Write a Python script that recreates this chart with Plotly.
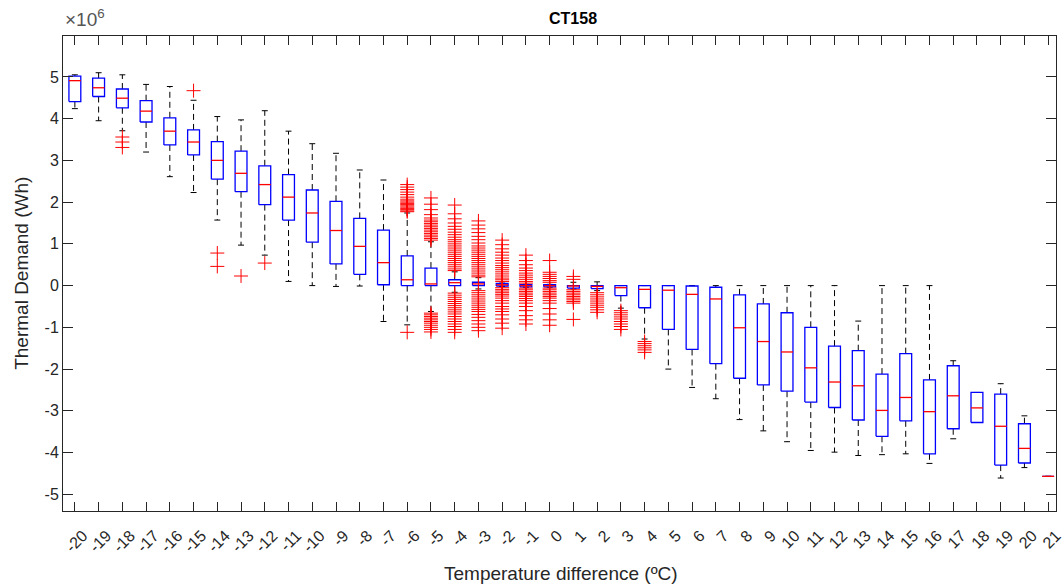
import plotly.graph_objects as go

# ---------------- data (values in units of 1e6 Wh) ----------------
categories = list(range(-20, 22))
tick_labels = [str(c) for c in categories]

lower_whisker = [4.24, 3.95, 3.71, 3.20, 2.61, 2.23, 1.57, 0.97, 0.73, 0.10, 0.00, -0.02,
                 -0.01, -0.86, -0.94, -0.62, -0.16, -0.08, -0.02, -0.04, -0.04, -0.08, -0.12,
                 -0.54, -1.28, -2.00, -2.44, -2.71, -3.21, -3.48, -3.74, -3.95, -3.99, -4.07,
                 -4.05, -4.03, -4.26, -3.67, -3.28, -4.61, -4.36, -4.57]
q1 = [4.41, 4.53, 4.26, 3.92, 3.37, 3.13, 2.55, 2.25, 1.94, 1.57, 1.04, 0.52,
      0.27, 0.02, 0.00, 0.00, 0.00, 0.00, -0.01, -0.03, -0.03, -0.06, -0.07,
      -0.24, -0.53, -1.05, -1.53, -1.87, -2.22, -2.38, -2.53, -2.79, -2.92, -3.22,
      -3.61, -3.24, -4.03, -3.43, -3.28, -4.30, -4.25, -4.57]
median = [4.91, 4.74, 4.49, 4.18, 3.70, 3.44, 3.00, 2.69, 2.42, 2.12, 1.74, 1.32,
          0.94, 0.55, 0.14, 0.04, 0.07, 0.04, 0.02, 0.00, 0.00, -0.01, -0.02,
          -0.05, -0.09, -0.11, -0.21, -0.32, -1.01, -1.34, -1.59, -1.97, -2.31, -2.40,
          -2.99, -2.68, -3.02, -2.64, -2.93, -3.37, -3.90, -4.57]
q3 = [5.02, 4.97, 4.71, 4.43, 4.02, 3.73, 3.45, 3.22, 2.87, 2.66, 2.29, 2.02,
      1.61, 1.33, 0.71, 0.42, 0.14, 0.08, 0.05, 0.02, 0.02, 0.00, 0.00,
      0.00, 0.00, 0.00, -0.01, -0.04, -0.22, -0.44, -0.65, -1.00, -1.45, -1.56,
      -2.12, -1.63, -2.26, -1.92, -2.56, -2.60, -3.31, -4.57]
upper_whisker = [5.05, 5.10, 5.05, 4.82, 4.77, 4.44, 4.05, 3.97, 4.19, 3.70, 3.40, 3.17,
                 2.77, 2.53, 1.74, 1.05, 0.33, 0.19, 0.06, 0.03, 0.03, 0.08, 0.09,
                 0.00, 0.00, 0.00, 0.00, 0.00, 0.00, 0.00, 0.00, 0.00, 0.00, -0.85,
                 0.00, 0.00, 0.00, -1.80, -2.56, -2.35, -3.12, -4.57]

# outliers per category
out_m18 = [3.56, 3.44, 3.31]
out_m15 = [4.67]
out_m14 = [0.78, 0.46]
out_m13 = [0.23]
out_m12 = [0.54]
out_m6 = [2.42, 2.36, 2.30, 2.24, 2.18, 2.12, 2.07, 2.03, 2.00, 1.97, 1.94, 1.91,
          1.88, 1.85, 1.82, 1.79, 1.77, -1.12]
out_m5 = [2.10, 1.95, 1.82, 1.70, 1.62, 1.57, 1.53, 1.49, 1.45, 1.41, 1.37,
          1.33, 1.29, 1.25, 1.21, 1.17, 1.13, 1.09,
          -0.66, -0.70, -0.74, -0.78, -0.82, -0.86, -0.90, -0.95, -1.00,
          -1.05, -1.11]
out_m4 = [1.93, 1.72, 1.60, 1.50, 1.42, 1.35, 1.28, 1.22, 1.16, 1.10, 1.05, 1.00,
          0.95, 0.90, 0.85, 0.80, 0.75, 0.70, 0.65, 0.60, 0.55, 0.50,
          0.45, 0.40, 0.36,
          -0.18, -0.23, -0.28, -0.33, -0.38, -0.43, -0.48, -0.53, -0.58,
          -0.63, -0.68, -0.74, -0.80, -0.86, -0.92, -0.98, -1.05, -1.12]
out_m3 = [1.55, 1.45, 1.36, 1.27, 1.18, 1.10, 1.02, 0.95, 0.90, 0.85, 0.80, 0.75,
          0.70, 0.65, 0.60, 0.55, 0.50, 0.45, 0.40, 0.35, 0.30, 0.25,
          0.21,
          -0.12, -0.17, -0.22, -0.27, -0.32, -0.37, -0.42, -0.47, -0.52,
          -0.57, -0.62, -0.69, -0.76, -0.84, -0.92, -1.00, -1.08]
out_m2 = [1.09, 0.98, 0.88, 0.80, 0.73, 0.66, 0.60, 0.54, 0.48, 0.43, 0.38,
          0.33, 0.28, 0.23, 0.18, 0.14, 0.10,
          -0.05, -0.09, -0.13, -0.17, -0.21, -0.25, -0.30, -0.36, -0.42,
          -0.50, -0.56, -0.62, -0.70, -0.80, -0.90, -1.02]
out_m1 = [0.73, 0.60, 0.50, 0.42, 0.36, 0.30, 0.25, 0.20, 0.15, 0.10, 0.06,
          -0.06, -0.10, -0.14, -0.18, -0.22, -0.26, -0.31, -0.36, -0.42,
          -0.50, -0.60, -0.72, -0.82, -0.92]
out_0 = [0.60, 0.32, 0.27, 0.22, 0.17, 0.12, 0.08,
         -0.06, -0.10, -0.14, -0.18, -0.22, -0.26, -0.30, -0.36, -0.42,
         -0.55, -0.68, -0.82, -0.95]
out_1 = [0.22, 0.15, -0.10, -0.14, -0.18, -0.22, -0.26, -0.30, -0.34,
         -0.38, -0.42, -0.81]
out_2 = [-0.17, -0.22, -0.27, -0.32, -0.37, -0.42, -0.47, -0.52, -0.58, -0.64]
out_3 = [-0.60, -0.65, -0.70, -0.75, -0.80, -0.86, -0.92, -0.98, -1.05]
out_4 = [-1.34, -1.39, -1.44, -1.49, -1.54, -1.60]

outlier_groups = [(-18, out_m18), (-15, out_m15), (-14, out_m14), (-13, out_m13),
                  (-12, out_m12), (-6, out_m6), (-5, out_m5), (-4, out_m4), (-3, out_m3),
                  (-2, out_m2), (-1, out_m1), (0, out_0), (1, out_1), (2, out_2),
                  (3, out_3), (4, out_4)]

# ---------------- styling ----------------
BOX_HALF = 0.25
CAP_HALF = 0.125
AX_COLOR = "#262626"
FONT = "Liberation Sans, Arial, sans-serif"

# ---------------- build segments ----------------
wx, wy, cx, cy, bx, by, mx, my = [], [], [], [], [], [], [], []
for c, lo, a, m, b, hi in zip(categories, lower_whisker, q1, median, q3, upper_whisker):
    wx += [c, c, None, c, c, None]
    wy += [b, hi, None, a, lo, None]
    cx += [c - CAP_HALF, c + CAP_HALF, None, c - CAP_HALF, c + CAP_HALF, None]
    cy += [hi, hi, None, lo, lo, None]
    bx += [c - BOX_HALF, c + BOX_HALF, c + BOX_HALF, c - BOX_HALF, c - BOX_HALF, None]
    by += [a, a, b, b, a, None]
    mx += [c - BOX_HALF, c + BOX_HALF, None]
    my += [m, m, None]

ox, oy = [], []
for c, vals in outlier_groups:
    ox += [c] * len(vals)
    oy += vals

fig = go.Figure()
fig.add_trace(go.Scatter(x=wx, y=wy, mode="lines",
                         line=dict(color="black", width=1, dash="6px,4px"),
                         hoverinfo="skip", showlegend=False))
fig.add_trace(go.Scatter(x=cx, y=cy, mode="lines",
                         line=dict(color="black", width=1),
                         hoverinfo="skip", showlegend=False))
fig.add_trace(go.Scatter(x=bx, y=by, mode="lines",
                         line=dict(color="#0000FF", width=1.3),
                         hoverinfo="skip", showlegend=False))
fig.add_trace(go.Scatter(x=mx, y=my, mode="lines",
                         line=dict(color="#FF0000", width=1.3),
                         hoverinfo="skip", showlegend=False))
fig.add_trace(go.Scatter(x=ox, y=oy, mode="markers",
                         marker=dict(symbol="cross-thin", size=10,
                                     line=dict(color="#FF0000", width=1)),
                         hoverinfo="skip", showlegend=False))

fig.update_layout(
    width=1064, height=588,
    margin=dict(l=63, r=0, t=36, b=77),
    paper_bgcolor="white", plot_bgcolor="white",
    font=dict(family=FONT, color=AX_COLOR, size=16),
    showlegend=False,
)
fig.update_xaxes(
    range=[-20.5, 21.33],
    tickmode="array", tickvals=categories, ticktext=tick_labels,
    tickangle=-45, ticks="inside", ticklen=9, tickcolor=AX_COLOR,
    showline=True, linecolor=AX_COLOR, linewidth=1, mirror="ticks",
    showgrid=False, zeroline=False,
    tickfont=dict(size=16, color=AX_COLOR),
    ticklabelshift=8, ticklabelstandoff=8,
    ticklabeloverflow="allow",
)
fig.update_yaxes(
    range=[-5.4, 5.98],
    tickmode="array", tickvals=[-5, -4, -3, -2, -1, 0, 1, 2, 3, 4, 5],
    ticktext=["-5", "-4", "-3", "-2", "-1", "0", "1", "2", "3", "4", "5"],
    ticks="inside", ticklen=10, tickcolor=AX_COLOR,
    showline=True, linecolor=AX_COLOR, linewidth=1, mirror="ticks",
    showgrid=False, zeroline=False,
    tickfont=dict(size=16, color=AX_COLOR),
)

fig.add_annotation(text="<b>CT158</b>", xref="paper", yref="paper",
                   x=(577 - 63) / 1001, y=1 + 18 / 475, xanchor="center", yanchor="middle",
                   showarrow=False, font=dict(size=16, color="black", family=FONT))
fig.add_annotation(text="×10<sup>6</sup>", xref="paper", yref="paper",
                   x=0, y=1 + 4 / 475, xanchor="left", yanchor="bottom",
                   showarrow=False, font=dict(size=19, color="#555555", family=FONT))
fig.add_annotation(text="Thermal Demand (Wh)", xref="paper", yref="paper",
                   x=-42 / 1001, y=0.5, xanchor="center", yanchor="middle", textangle=-90,
                   showarrow=False, font=dict(size=19, color=AX_COLOR, family=FONT))
fig.add_annotation(text="Temperature difference (ºC)", xref="paper", yref="paper",
                   x=(565 - 63) / 1001, y=-62 / 475, xanchor="center", yanchor="middle",
                   showarrow=False, font=dict(size=19, color=AX_COLOR, family=FONT))

fig.write_html("out.html")
